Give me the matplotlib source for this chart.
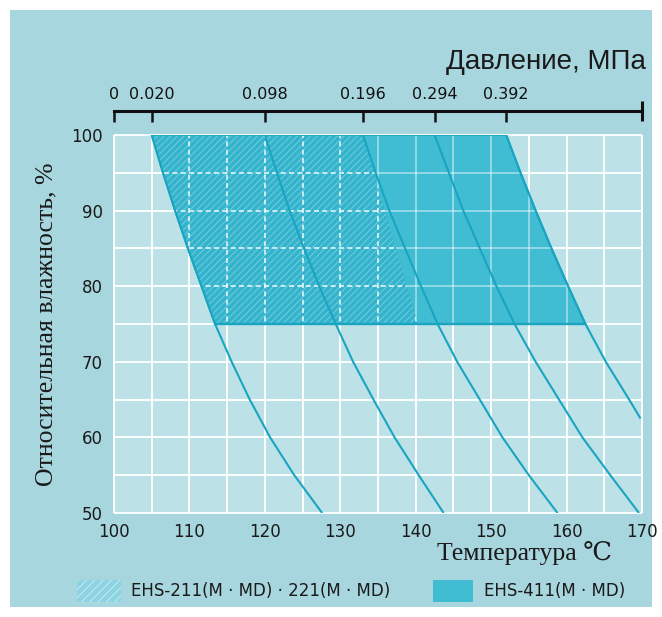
import matplotlib
matplotlib.use("Agg")
import matplotlib.pyplot as plt
from matplotlib.patches import Polygon, Rectangle

W, H = 662, 617

# top scale: gauge pressure and its saturation temperature
pressure_labels = ["0", "0.020", "0.098", "0.196", "0.294", "0.392"]
pressure_temps = [100, 105, 120, 133, 142.5, 152]

# constant-pressure curves, relative humidity vs temperature
rh_levels = [100, 95, 90, 85, 80, 75, 70, 65, 60, 55, 50]
curve_020 = [105, 106.5, 108.1, 109.8, 111.6, 113.4, 115.6, 118.0, 120.7, 123.9, 127.6]
curve_098 = [120, 121.6, 123.3, 125.2, 127.2, 129.4, 131.7, 134.4, 137.2, 140.4, 143.7]
curve_196 = [133, 134.7, 136.5, 138.6, 140.7, 142.9, 145.5, 148.5, 151.5, 155.0, 158.8]
curve_294 = [142.5, 144.4, 146.3, 148.5, 150.7, 153.1, 155.9, 159.0, 162.1, 165.8, 169.6]
curve_392_rh = [100, 95, 90, 85, 80, 75, 70, 65, 62.5]
curve_392 = [152, 153.9, 155.9, 158.0, 160.2, 162.5, 165.2, 168.3, 169.8]

# right edge of the EHS-211/221 (hatched) zone
hatch_edge_rh = [100, 75]
hatch_edge_t = [133, 140.3]

label_211 = "EHS-211(M · MD) · 221(M · MD)"
label_411 = "EHS-411(M · MD)"

C_PANEL = "#a8d6de"
C_PLOT = "#bce1e7"
C_FILL = "#40bcd3"
C_HATCHFILL = "#34b4cc"
C_LINE = "#19a5c1"
C_TEXT = "#1a1a1a"
SERIF = ["Liberation Serif", "DejaVu Serif"]

plt.rcParams["hatch.linewidth"] = 0.7

fig = plt.figure(figsize=(W / 100, H / 100), dpi=100)
fig.patch.set_facecolor("white")
fig.patches.append(Rectangle((10 / W, 10 / H), 642 / W, 597 / H, transform=fig.transFigure,
                             facecolor=C_PANEL, edgecolor="none", zorder=-10))

ax = fig.add_axes([114 / W, 1 - 513 / H, 528 / W, 378 / H])
ax.set_facecolor(C_PLOT)
ax.set_xlim(100, 170)
ax.set_ylim(50, 100)
for s in ax.spines.values():
    s.set_visible(False)

ax.set_xticks(range(100, 171, 10))
ax.set_yticks(range(50, 101, 10))
ax.tick_params(length=0, labelsize=12, colors=C_TEXT, pad=8)
ax.tick_params(axis="x", pad=7)

gx = list(range(100, 171, 5))
gy = list(range(50, 101, 5))
ax.vlines(gx, 50, 100, color="white", lw=1.3, zorder=1, clip_on=False)
ax.hlines(gy, 100, 170, color="white", lw=1.3, zorder=1, clip_on=False)

# solid zone EHS-411
n75 = rh_levels.index(75) + 1
m75 = curve_392_rh.index(75) + 1
poly_pts = list(zip(curve_020[:n75], rh_levels[:n75])) + \
    list(zip(curve_392[:m75], curve_392_rh[:m75]))[::-1]
solid = Polygon(poly_pts, closed=True, facecolor=C_FILL, edgecolor=C_LINE, lw=1.4, zorder=2)
ax.add_patch(solid)
g1 = ax.vlines(gx, 50, 100, color="white", lw=1.2, alpha=0.5, zorder=3)
g2 = ax.hlines(gy, 100, 170, color="white", lw=1.2, alpha=0.5, zorder=3)
g1.set_clip_path(solid)
g2.set_clip_path(solid)

# hatched zone EHS-211/221
hatch_pts = list(zip(curve_020[:n75], rh_levels[:n75])) + \
    list(zip(hatch_edge_t, hatch_edge_rh))[::-1]
hz = Polygon(hatch_pts, closed=True, facecolor=C_HATCHFILL, edgecolor="none", zorder=4)
ax.add_patch(hz)
hh = Polygon(hatch_pts, closed=True, fill=False, hatch="/////", edgecolor="#6fcde0",
             lw=0, zorder=5)
ax.add_patch(hh)
g3 = ax.vlines(gx, 50, 100, color="white", lw=1.2, ls=(0, (3, 2)), alpha=0.85, zorder=6)
g4 = ax.hlines(gy, 100, 170, color="white", lw=1.2, ls=(0, (3, 2)), alpha=0.85, zorder=6)
g3.set_clip_path(hz)
g4.set_clip_path(hz)
ax.plot([curve_020[n75 - 1], curve_392[m75 - 1]], [75, 75], color=C_LINE, lw=1.7, zorder=7)
ax.plot([curve_020[0], curve_392[0]], [100, 100], color=C_LINE, lw=1.3, zorder=7)

for c in (curve_020, curve_098, curve_196, curve_294):
    ax.plot(c, rh_levels, color=C_LINE, lw=1.5, zorder=8, solid_capstyle="butt")
ax.plot(curve_392, curve_392_rh, color=C_LINE, lw=1.5, zorder=8, solid_capstyle="butt")

# pressure scale on top
sec = ax.secondary_xaxis(1.064)
sec.set_xticks(pressure_temps, labels=pressure_labels)
sec.set_xticks([100, 170], minor=True)
sec.spines["top"].set_linewidth(2.2)
sec.spines["top"].set_color("#111111")
sec.tick_params(which="major", direction="in", length=8, width=1.8, colors="#111111",
                labelsize=11.5, pad=6)
sec.tick_params(which="minor", direction="inout", length=14, width=2.2, colors="#111111")

fig.text(646 / W, 1 - 62 / H, "Давление, МПа", fontsize=20, ha="right", va="center",
         color=C_TEXT, family="Liberation Sans")

ax.set_ylabel("Относительная влажность, %", fontsize=18.5, family=SERIF,
              color=C_TEXT, labelpad=10)
fig.text(612 / W, 1 - 553 / H, "Температура ℃", fontsize=18.5, ha="right", va="center",
         color=C_TEXT, family=SERIF)

# legend
fig.patches.append(Rectangle((77 / W, 1 - 602 / H), 44 / W, 22 / H, transform=fig.transFigure,
                             facecolor="#8dd3e1", edgecolor="#c4ecf3", lw=0, hatch="////"))
fig.text(131 / W, 1 - 591 / H, label_211, fontsize=12, ha="left", va="center", color=C_TEXT)
fig.patches.append(Rectangle((433 / W, 1 - 602 / H), 40 / W, 22 / H, transform=fig.transFigure,
                             facecolor=C_FILL, edgecolor="none"))
fig.text(484 / W, 1 - 591 / H, label_411, fontsize=12, ha="left", va="center", color=C_TEXT)

fig.savefig("out.png", dpi=100)
